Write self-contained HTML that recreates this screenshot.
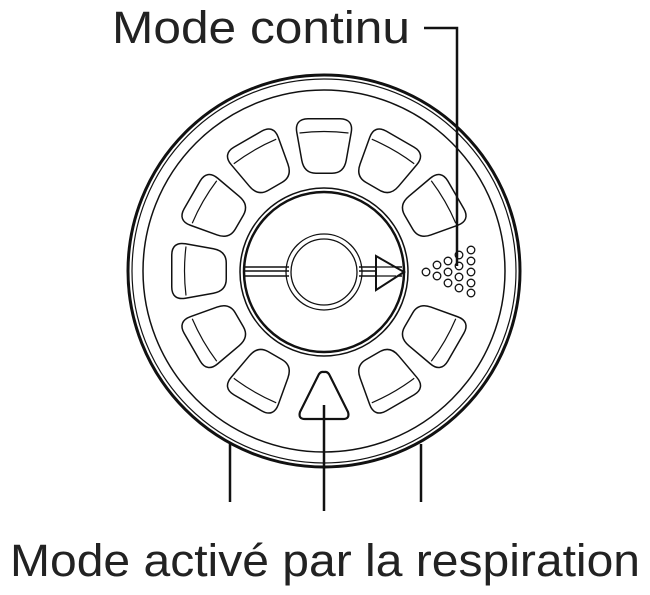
<!DOCTYPE html>
<html><head><style>html,body{margin:0;padding:0;background:#fff}svg{display:block}</style></head>
<body>
<svg width="650" height="595" viewBox="0 0 650 595" xmlns="http://www.w3.org/2000/svg">
<defs>
<g id="win">
<path d="M-16,-25 L16,-25 Q27,-25 25,-14 L20,14 Q18,25 8,25 L-8,25 Q-18,25 -20,14 L-25,-14 Q-27,-25 -16,-25 Z" fill="#fff" stroke="#111" stroke-width="6"/>
<path d="M-16,-25 L16,-25 Q27,-25 25,-14 L20,14 Q18,25 8,25 L-8,25 Q-18,25 -20,14 L-25,-14 Q-27,-25 -16,-25 Z" fill="#fff" stroke="#fff" stroke-width="3"/>
<path d="M-24.5,-13 Q0,-16 24.5,-13" fill="none" stroke="#111" stroke-width="1.2"/>
</g>
</defs>
<g fill="none" stroke="#111">
<circle cx="324" cy="271" r="196" stroke-width="3"/>
<circle cx="324" cy="271" r="192" stroke-width="1.2"/>
<circle cx="324" cy="271" r="181" stroke-width="1.5"/>
</g>
<g>
<use href="#win" transform="translate(324,271) rotate(0) translate(0,-125)"/>
<use href="#win" transform="translate(324,271) rotate(30) translate(0,-125)"/>
<use href="#win" transform="translate(324,271) rotate(60) translate(0,-125)"/>
<use href="#win" transform="translate(324,271) rotate(120) translate(0,-125)"/>
<use href="#win" transform="translate(324,271) rotate(150) translate(0,-125)"/>
<use href="#win" transform="translate(324,271) rotate(210) translate(0,-125)"/>
<use href="#win" transform="translate(324,271) rotate(240) translate(0,-125)"/>
<use href="#win" transform="translate(324,271) rotate(270) translate(0,-125)"/>
<use href="#win" transform="translate(324,271) rotate(300) translate(0,-125)"/>
<use href="#win" transform="translate(324,271) rotate(330) translate(0,-125)"/>
</g>
<g fill="none" stroke="#111">
<circle cx="324" cy="272" r="84" stroke-width="1.5"/>
<circle cx="324" cy="272" r="80" stroke-width="2.5"/>
<circle cx="324" cy="272" r="38" stroke-width="1.3"/>
<circle cx="324" cy="272" r="33" stroke-width="1.3"/>
<line x1="244" y1="267" x2="289" y2="267" stroke-width="1.4"/>
<line x1="244" y1="271" x2="289" y2="271" stroke-width="1.4"/>
<line x1="244" y1="276" x2="289" y2="276" stroke-width="1.4"/>
<line x1="359" y1="267" x2="402" y2="267" stroke-width="1.4"/>
<line x1="359" y1="271" x2="402" y2="271" stroke-width="1.4"/>
<line x1="359" y1="276" x2="402" y2="276" stroke-width="1.4"/>
<path d="M376,256 L404,272 L376,290 Z" stroke-width="2" fill="#fff"/>
<line x1="376" y1="267" x2="396" y2="267" stroke-width="1.3"/>
<line x1="376" y1="276" x2="396" y2="276" stroke-width="1.3"/>
<path d="M324,372 Q320,371 318,376 L300,412 Q298,419 305,419 L343,419 Q350,419 348,412 L330,376 Q328,371 324,372 Z" stroke-width="2.2"/>
</g>
<g fill="#fff" stroke="#111" stroke-width="1.3">
<circle cx="426" cy="272" r="3.8"/>
<circle cx="437" cy="265" r="3.8"/><circle cx="437" cy="276" r="3.8"/>
<circle cx="448" cy="261" r="3.8"/><circle cx="448" cy="272" r="3.8"/><circle cx="448" cy="283" r="3.8"/>
<circle cx="459" cy="255" r="3.8"/><circle cx="459" cy="266" r="3.8"/><circle cx="459" cy="277" r="3.8"/><circle cx="459" cy="288" r="3.8"/>
<circle cx="471" cy="250" r="3.8"/><circle cx="471" cy="261" r="3.8"/><circle cx="471" cy="272" r="3.8"/><circle cx="471" cy="283" r="3.8"/><circle cx="471" cy="293" r="3.8"/>
</g>
<g stroke="#111" stroke-width="2.5" fill="none">
<line x1="230" y1="444" x2="230" y2="502"/>
<line x1="421" y1="444" x2="421" y2="502"/>
<line x1="324" y1="405" x2="324" y2="511"/>
<path d="M424,28 L457,28 L457,266"/>
</g>
<g font-family="Liberation Sans, sans-serif" font-size="45" fill="#222">
<text x="112" y="43" textLength="298" lengthAdjust="spacingAndGlyphs">Mode continu</text>
<text x="325" y="576" text-anchor="middle" textLength="630" lengthAdjust="spacingAndGlyphs">Mode activé par la respiration</text>
</g>
</svg>
</body></html>
